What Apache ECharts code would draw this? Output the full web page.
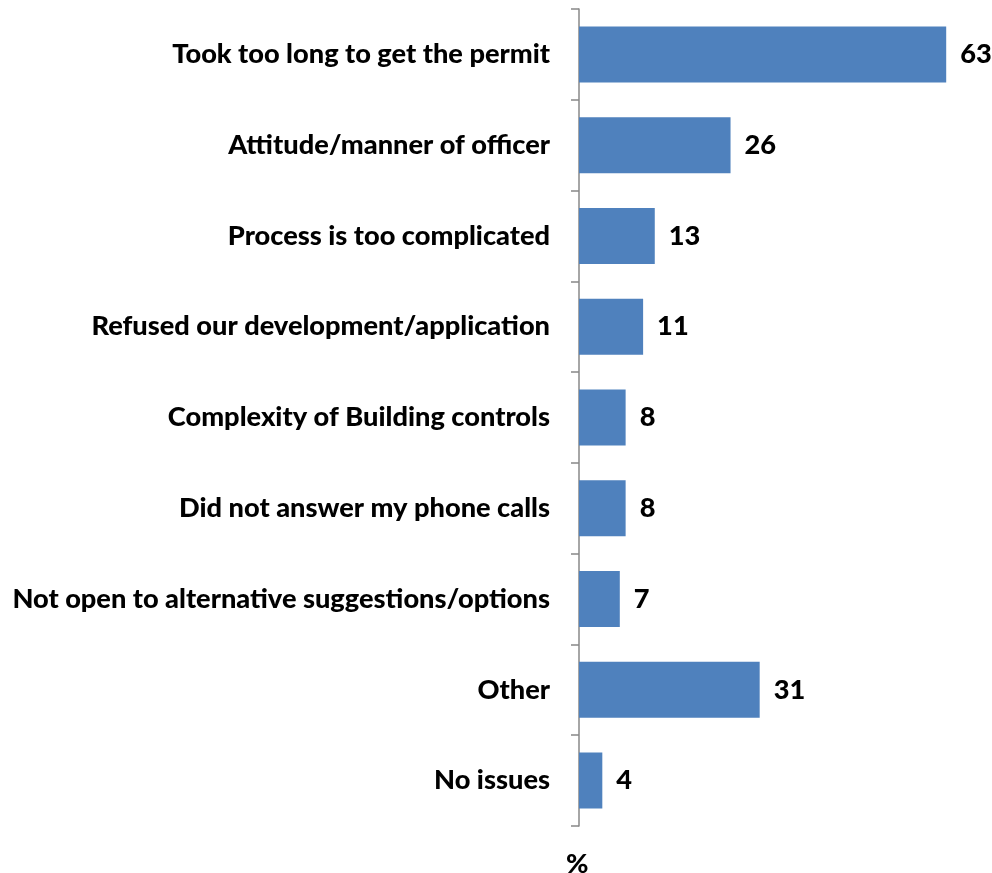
<!DOCTYPE html>
<html>
<head>
<meta charset="utf-8">
<script src="https://cdn.jsdelivr.net/npm/echarts@6/dist/echarts.min.js"></script>
<style>html,body{margin:0;padding:0;background:#fff;}#c{width:992px;height:873px;}</style>
</head>
<body>
<div id="c"></div>
<script>
const categories = [
  "Took too long to get the permit",
  "Attitude/manner of officer",
  "Process is too complicated",
  "Refused our development/application",
  "Complexity of Building controls",
  "Did not answer my phone calls",
  "Not open to alternative suggestions/options",
  "Other",
  "No issues"
];
const values = [63, 26, 13, 11, 8, 8, 7, 31, 4];
const axisTitle = "%";

const FONT = "Lato, sans-serif";
const FS = 27.2;
const FW = 900;
const chart = echarts.init(document.getElementById('c'));
chart.setOption({
  animation: false,
  grid: { left: 579, top: 9, width: 408, height: 817 },
  title: {
    text: axisTitle, left: 561, top: 846,
    textStyle: { fontFamily: FONT, fontWeight: FW, fontSize: FS, color: '#000' }
  },
  xAxis: { type: 'value', min: 0, max: 70, show: false },
  yAxis: {
    type: 'category', data: categories, inverse: true,
    axisLine: { show: true, lineStyle: { color: '#888', width: 1.5 } },
    axisTick: { show: true, length: 8, lineStyle: { color: '#888', width: 1.5 } },
    axisLabel: { margin: 29, fontFamily: FONT, fontWeight: FW, fontSize: FS, color: '#000' },
    splitLine: { show: false }
  },
  series: [{
    type: 'bar', data: values, barWidth: 56,
    itemStyle: { color: '#4F81BD' },
    label: { show: true, position: 'right', distance: 14, fontFamily: FONT, fontWeight: FW, fontSize: FS, color: '#000' }
  }]
});
</script>
</body>
</html>
